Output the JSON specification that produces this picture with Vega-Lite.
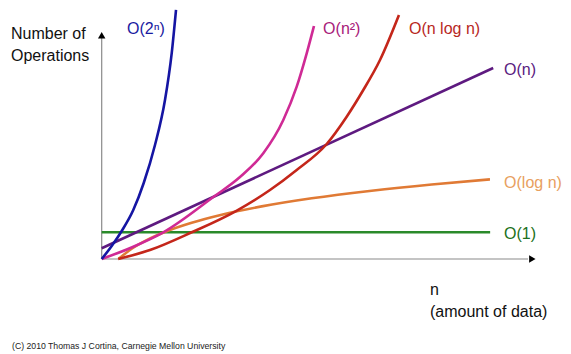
{
  "$schema": "https://vega.github.io/schema/vega-lite/v6.json",
  "width": 571,
  "height": 354,
  "padding": 0,
  "autosize": {"type": "none"},
  "background": "white",
  "config": {"view": {"stroke": null}, "font": "Liberation Sans"},
  "datasets": {
    "curves": [
      {"series": "O(1)", "n": 0, "ops": 11.57},
      {"series": "O(1)", "n": 8.93, "ops": 11.57},
      {"series": "O(n)", "n": 0, "ops": 4.64},
      {"series": "O(n)", "n": 9.0, "ops": 82.8},
      {"series": "O(log n)", "n": 0.382, "ops": 0},
      {"series": "O(log n)", "n": 0.69, "ops": 4.46},
      {"series": "O(log n)", "n": 1.034, "ops": 8.19},
      {"series": "O(log n)", "n": 1.494, "ops": 12.05},
      {"series": "O(log n)", "n": 2.069, "ops": 15.73},
      {"series": "O(log n)", "n": 2.759, "ops": 19.2},
      {"series": "O(log n)", "n": 3.678, "ops": 22.8},
      {"series": "O(log n)", "n": 4.828, "ops": 26.31},
      {"series": "O(log n)", "n": 6.207, "ops": 29.6},
      {"series": "O(log n)", "n": 7.586, "ops": 32.29},
      {"series": "O(log n)", "n": 8.926, "ops": 34.5},
      {"series": "O(n log n)", "n": 0.38, "ops": 0},
      {"series": "O(n log n)", "n": 1.11, "ops": 3.9},
      {"series": "O(n log n)", "n": 2.069, "ops": 11.57},
      {"series": "O(n log n)", "n": 3.087, "ops": 20.8},
      {"series": "O(n log n)", "n": 3.869, "ops": 29.9},
      {"series": "O(n log n)", "n": 4.483, "ops": 38.58},
      {"series": "O(n log n)", "n": 5.163, "ops": 49.63},
      {"series": "O(n log n)", "n": 5.632, "ops": 61.68},
      {"series": "O(n log n)", "n": 6.014, "ops": 73.25},
      {"series": "O(n log n)", "n": 6.398, "ops": 86.26},
      {"series": "O(n log n)", "n": 6.834, "ops": 105.77},
      {"series": "O(n²)", "n": 0, "ops": 0},
      {"series": "O(n²)", "n": 0.726, "ops": 5.33},
      {"series": "O(n²)", "n": 1.416, "ops": 11.57},
      {"series": "O(n²)", "n": 2.566, "ops": 26.87},
      {"series": "O(n²)", "n": 3.179, "ops": 35.54},
      {"series": "O(n²)", "n": 3.715, "ops": 45.82},
      {"series": "O(n²)", "n": 4.175, "ops": 60.25},
      {"series": "O(n²)", "n": 4.483, "ops": 74.69},
      {"series": "O(n²)", "n": 4.713, "ops": 89.16},
      {"series": "O(n²)", "n": 4.88, "ops": 101.0},
      {"series": "O(2ⁿ)", "n": 0, "ops": 0},
      {"series": "O(2ⁿ)", "n": 0.23, "ops": 5.64},
      {"series": "O(2ⁿ)", "n": 0.46, "ops": 12.14},
      {"series": "O(2ⁿ)", "n": 0.726, "ops": 21.24},
      {"series": "O(2ⁿ)", "n": 0.966, "ops": 32.94},
      {"series": "O(2ⁿ)", "n": 1.225, "ops": 49.41},
      {"series": "O(2ⁿ)", "n": 1.455, "ops": 68.92},
      {"series": "O(2ⁿ)", "n": 1.609, "ops": 89.16},
      {"series": "O(2ⁿ)", "n": 1.708, "ops": 107.94}
    ],
    "axes": [
      {"axis": "y", "n": 0, "ops": 0},
      {"axis": "y", "n": 0, "ops": 96},
      {"axis": "x", "n": 0, "ops": 0},
      {"axis": "x", "n": 9.8, "ops": 0}
    ],
    "arrows": [
      {"shape": "triangle-up", "n": 0, "ops": 97.0},
      {"shape": "triangle-right", "n": 9.9, "ops": 0}
    ],
    "labels": [
      {"series": "O(2ⁿ)", "text": "O(2ⁿ)", "n": 0.582, "ops": 99.7},
      {"series": "O(n²)", "text": "O(n²)", "n": 5.09, "ops": 99.7},
      {"series": "O(n log n)", "text": "O(n log n)", "n": 7.064, "ops": 99.7},
      {"series": "O(n)", "text": "O(n)", "n": 9.25, "ops": 81.9},
      {"series": "O(log n)", "text": "O(log n)", "n": 9.25, "ops": 32.94},
      {"series": "O(1)", "text": "O(1)", "n": 9.25, "ops": 10.84},
      {"series": "axis", "text": "Number of", "n": -2.085, "ops": 97.53},
      {"series": "axis", "text": "Operations", "n": -2.085, "ops": 87.99},
      {"series": "axis", "text": "n", "n": 7.547, "ops": -13.44},
      {"series": "axis", "text": "(amount of data)", "n": 7.547, "ops": -22.97}
    ],
    "credit": [
      {"text": "(C) 2010 Thomas J Cortina, Carnegie Mellon University", "n": -2.062, "ops": -37.71}
    ]
  },
  "encoding": {
    "x": {"field": "n", "type": "quantitative", "scale": {"domain": [-2.338, 10.789], "nice": false, "zero": false}, "axis": null},
    "y": {"field": "ops", "type": "quantitative", "scale": {"domain": [-41.18, 112.27], "nice": false, "zero": false}, "axis": null}
  },
  "layer": [
    {
      "data": {"name": "axes"},
      "mark": {"type": "line", "color": "#8a8a8a", "strokeWidth": 1.2},
      "encoding": {"detail": {"field": "axis"}}
    },
    {
      "data": {"name": "arrows"},
      "mark": {"type": "point", "filled": true, "color": "black", "size": 55, "opacity": 1},
      "encoding": {"shape": {"field": "shape", "type": "nominal", "scale": null}}
    },
    {
      "data": {"name": "curves"},
      "mark": {"type": "line", "strokeWidth": 2.6, "interpolate": "monotone"},
      "encoding": {
        "color": {
          "field": "series", "type": "nominal", "legend": null,
          "scale": {
            "domain": ["O(1)", "O(n)", "O(log n)", "O(n log n)", "O(n²)", "O(2ⁿ)"],
            "range": ["#2a8a2a", "#5e1a80", "#e07a35", "#c4261a", "#cf2a95", "#1515a3"]
          }
        }
      }
    },
    {
      "data": {"name": "labels"},
      "mark": {"type": "text", "align": "left", "baseline": "middle", "fontSize": 16, "font": "Liberation Sans"},
      "encoding": {
        "text": {"field": "text"},
        "color": {
          "field": "series", "type": "nominal", "legend": null,
          "scale": {
            "domain": ["O(1)", "O(n)", "O(log n)", "O(n log n)", "O(n²)", "O(2ⁿ)", "axis"],
            "range": ["#207020", "#5a2080", "#e8a060", "#b8281e", "#a8207a", "#1a1aa0", "#111111"]
          }
        }
      }
    },
    {
      "data": {"name": "credit"},
      "mark": {"type": "text", "align": "left", "baseline": "middle", "fontSize": 8.7, "font": "Liberation Sans", "color": "#222222"},
      "encoding": {"text": {"field": "text"}}
    }
  ],
  "resolve": {"scale": {"color": "independent"}}
}
